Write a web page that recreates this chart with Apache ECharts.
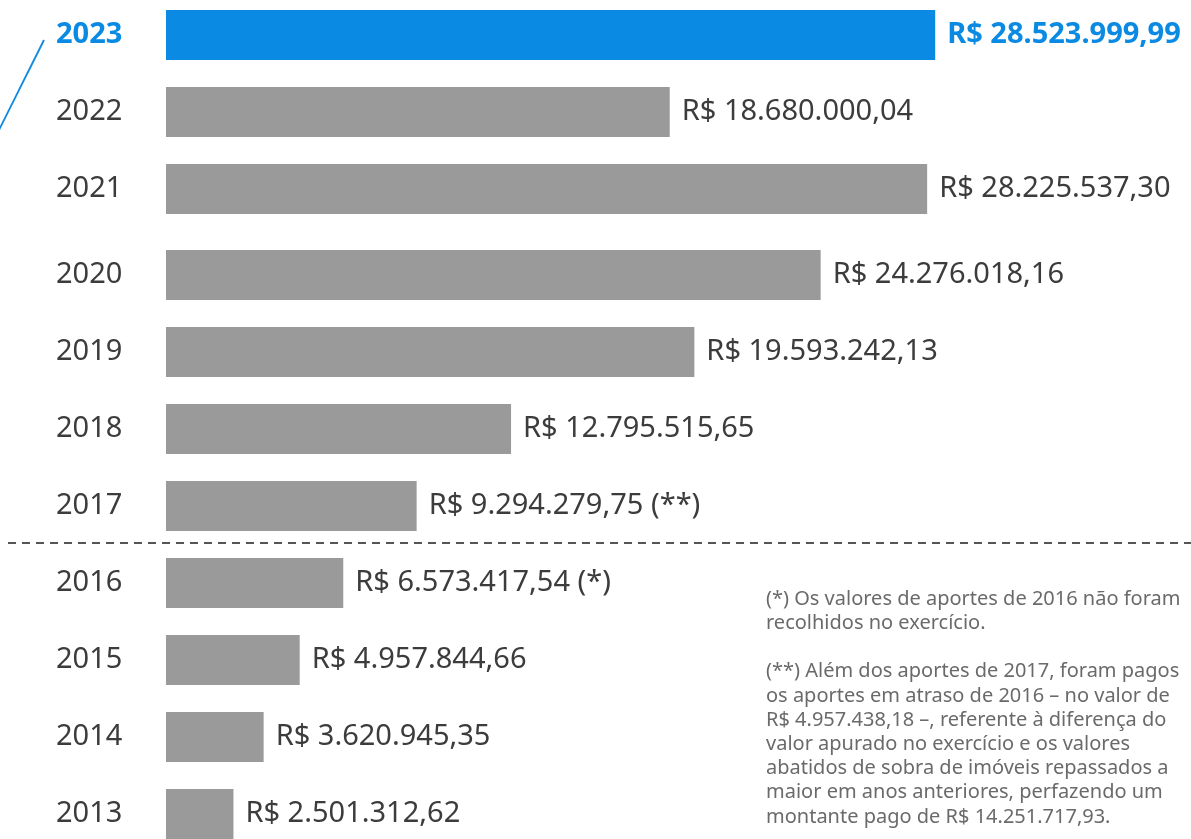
<!DOCTYPE html>
<html>
<head>
<meta charset="utf-8">
<script src="https://cdn.jsdelivr.net/npm/echarts@6/dist/echarts.min.js"></script>
<style>
  html, body { margin: 0; padding: 0; background: #ffffff; }
  #chart { width: 1191px; height: 839px; }
</style>
</head>
<body>
<div id="chart"></div>
<script>
// Aportes anuais (R$)
const yearsTop = ['2023', '2022', '2021'];
const valuesTop = [28523999.99, 18680000.04, 28225537.30];
const notesTop = ['', '', ''];

const yearsBottom = ['2020', '2019', '2018', '2017', '2016', '2015', '2014', '2013'];
const valuesBottom = [24276018.16, 19593242.13, 12795515.65, 9294279.75, 6573417.54, 4957844.66, 3620945.35, 2501312.62];
const notesBottom = ['', '', '', ' (**)', ' (*)', '', '', ''];

const highlightYear = '2023';

const footnotes = [
  '(*) Os valores de aportes de 2016 não foram',
  'recolhidos no exercício.',
  '',
  '(**) Além dos aportes de 2017, foram pagos',
  'os aportes em atraso de 2016 – no valor de',
  'R$ 4.957.438,18 –, referente à diferença do',
  'valor apurado no exercício e os valores',
  'abatidos de sobra de imóveis repassados a',
  'maior em anos anteriores, perfazendo um',
  'montante pago de R$ 14.251.717,93.'
];

const BLUE = '#0a8ae2';
const GREY = '#9a9a9a';
const TEXT = '#3c3c3c';
const FONT = '"Noto Sans", sans-serif';
const LABEL_SIZE = 29;

function brl(v) {
  const parts = v.toFixed(2).split('.');
  const intPart = parts[0].replace(/\B(?=(\d{3})+(?!\d))/g, '.');
  return 'R$ ' + intPart + ',' + parts[1];
}

function yData(years) {
  return years.map(y => y === highlightYear
    ? {
        value: y,
        textStyle: {
          color: BLUE, fontWeight: 'bold', align: 'left',
          fontSize: LABEL_SIZE, fontFamily: FONT
        }
      }
    : y);
}

function barData(years, values, notes) {
  return values.map((v, i) => {
    const hl = years[i] === highlightYear;
    return {
      value: v,
      note: notes[i],
      itemStyle: { color: hl ? BLUE : GREY },
      label: hl ? { color: BLUE, fontWeight: 'bold' } : {}
    };
  });
}

const xMax = 30000000;
const plotWidth = 809;

function xAxisDef(idx) {
  return {
    gridIndex: idx, type: 'value', min: 0, max: xMax, show: false
  };
}
function yAxisDef(idx, years) {
  return {
    gridIndex: idx, type: 'category', inverse: true, data: yData(years),
    axisLine: { show: false }, axisTick: { show: false }, splitLine: { show: false },
    axisLabel: {
      align: 'left', margin: 110, fontSize: LABEL_SIZE, color: TEXT, fontFamily: FONT
    }
  };
}
function seriesDef(idx, years, values, notes) {
  return {
    type: 'bar', xAxisIndex: idx, yAxisIndex: idx,
    barWidth: 50,
    data: barData(years, values, notes),
    label: {
      show: true, position: 'right', distance: 12,
      fontSize: LABEL_SIZE, color: TEXT, fontFamily: FONT,
      formatter: p => brl(p.value) + (p.data.note || '')
    },
    silent: true, animation: false
  };
}

const footText = footnotes.join('\n');

const chart = echarts.init(document.getElementById('chart'), null, { renderer: 'canvas' });
chart.setOption({
  backgroundColor: '#ffffff',
  animation: false,
  grid: [
    { left: 166, width: plotWidth, top: -3.5, height: 231, outerBoundsMode: 'none', containLabel: false },
    { left: 166, width: plotWidth, top: 236.5, height: 616, outerBoundsMode: 'none', containLabel: false }
  ],
  xAxis: [xAxisDef(0), xAxisDef(1)],
  yAxis: [yAxisDef(0, yearsTop), yAxisDef(1, yearsBottom)],
  series: [
    seriesDef(0, yearsTop, valuesTop, notesTop),
    seriesDef(1, yearsBottom, valuesBottom, notesBottom)
  ],
  graphic: [
    {
      type: 'line', silent: true,
      shape: { x1: 44, y1: 40, x2: -2, y2: 132 },
      style: { stroke: BLUE, lineWidth: 1.8 }
    },
    {
      type: 'line', silent: true,
      shape: { x1: 8, y1: 543, x2: 1191, y2: 543 },
      style: { stroke: '#555555', lineWidth: 2, lineDash: [8, 6] }
    },
    {
      type: 'text', left: 766, top: 587, silent: true,
      style: {
        text: footText, fill: '#6a6a6a', fontSize: 20,
        fontFamily: FONT, lineHeight: 24.2
      }
    }
  ]
});
</script>
</body>
</html>
